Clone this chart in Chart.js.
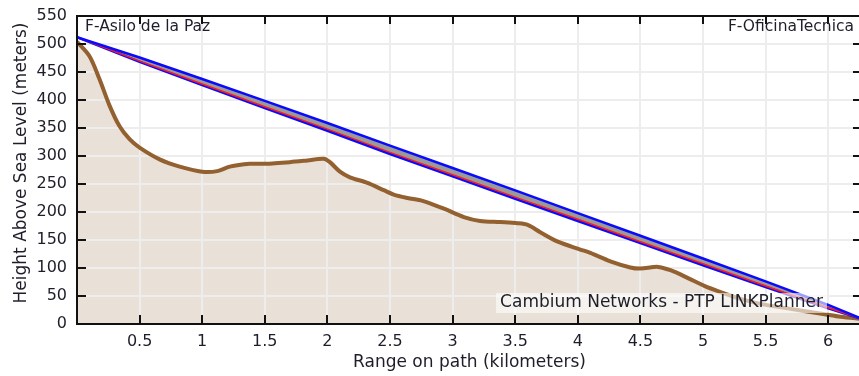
<!DOCTYPE html>
<html>
<head>
<meta charset="utf-8">
<title>Path profile</title>
<script src="https://cdn.jsdelivr.net/npm/chart.js@4.4.0/dist/chart.umd.min.js"></script>
<style>
  html, body { margin: 0; padding: 0; background: #fff; overflow: hidden; }
  canvas { display: block; }
</style>
</head>
<body>
<canvas id="profile" width="866" height="376"></canvas>
<script>
// ground profile along the path (km, metres above sea level)
const terrainKm = [0, 0.1, 0.18, 0.26, 0.34, 0.42, 0.5, 0.66, 0.82, 1.0, 1.12, 1.22, 1.38, 1.5, 1.7, 1.84, 1.97,
  2.02, 2.1, 2.18, 2.32, 2.45, 2.53, 2.64, 2.76, 2.93, 3.09, 3.22, 3.38, 3.52, 3.6, 3.7, 3.84, 4.02, 4.1,
  4.26, 4.42, 4.5, 4.64, 4.74, 4.88, 5.01, 5.14, 5.3, 5.46, 5.7, 5.96, 6.1, 6.27];
const terrainHeight = [504, 478, 437, 390, 353, 330, 315, 294, 281, 272, 273, 281, 286, 286, 289, 292, 295,
  289, 272, 262, 252, 239, 231, 225, 220, 206, 191, 184, 182, 180, 177, 164, 147, 133, 127,
  112, 101, 99, 102, 96, 82, 68, 57, 45, 36, 27, 18, 13, 9];

// line of sight and its clearance band
const bandKm = [0, 0.5, 1, 1.5, 2, 2.5, 3, 3.5, 4, 4.5, 5, 5.5, 6, 6.27];
const bandUpper = [512, 476, 437.5, 398.5, 359, 318.5, 278.5, 238.5, 198, 157.5, 117, 76, 34, 9];
const bandLower = [512, 468, 426.5, 385.5, 345, 303.5, 263.5, 223.5, 184, 144.5, 105, 66, 28, 9];
const losRed = [512, 469.5, 428.5, 388, 348, 306.5, 266.5, 226.5, 187, 147, 107.5, 68, 29, 9];

const xTickValues = [0.5, 1, 1.5, 2, 2.5, 3, 3.5, 4, 4.5, 5, 5.5, 6];
const yTickValues = [0, 50, 100, 150, 200, 250, 300, 350, 400, 450, 500, 550];

const siteLeft = 'F-Asilo de la Paz';
const siteRight = 'F-OficinaTecnica';
const credit = 'Cambium Networks - PTP LINKPlanner';
const yTitle = 'Height Above Sea Level (meters)';

const FONT = 'DejaVu Sans';
const TEXT = '#1e1e2a';

const pts = (xs, ys) => xs.map((x, i) => ({ x, y: ys[i] }));

// grid goes over the ground fill but under every line
const profileFrame = {
  id: 'profileFrame',
  afterDatasetDraw(chart, args) {
    if (args.index !== chart.data.datasets.length - 1) return;
    const { ctx, chartArea: a, scales: { x, y } } = chart;
    ctx.save();
    ctx.strokeStyle = '#ededed';
    ctx.lineWidth = 2;
    ctx.beginPath();
    x.ticks.forEach(t => {
      const px = Math.round(x.getPixelForValue(t.value));
      ctx.moveTo(px, a.top); ctx.lineTo(px, a.bottom);
    });
    y.ticks.forEach(t => {
      const py = Math.round(y.getPixelForValue(t.value));
      ctx.moveTo(a.left, py); ctx.lineTo(a.right, py);
    });
    ctx.stroke();
    ctx.restore();
  },
  afterDraw(chart) {
    const { ctx, chartArea: a, scales: { x, y } } = chart;
    ctx.save();
    ctx.strokeStyle = '#111';
    ctx.lineWidth = 2;
    ctx.beginPath();
    ctx.moveTo(a.right, a.top); ctx.lineTo(a.left, a.top);
    ctx.lineTo(a.left, a.bottom); ctx.lineTo(a.right, a.bottom);
    ctx.lineTo(a.right, a.top);
    // inward tick marks on all four sides
    x.ticks.forEach(t => {
      const px = Math.round(x.getPixelForValue(t.value));
      ctx.moveTo(px, a.bottom); ctx.lineTo(px, a.bottom - 9);
      ctx.moveTo(px, a.top); ctx.lineTo(px, a.top + 8);
    });
    y.ticks.forEach(t => {
      const py = Math.round(y.getPixelForValue(t.value));
      ctx.moveTo(a.left, py); ctx.lineTo(a.left + 9, py);
      ctx.moveTo(a.right, py); ctx.lineTo(a.right - 9, py);
    });
    ctx.stroke();

    ctx.font = `15.5px "${FONT}"`;
    ctx.fillStyle = TEXT;
    ctx.textBaseline = 'middle';
    ctx.textAlign = 'left';
    ctx.fillText(siteLeft, a.left + 8, a.top + 11);
    ctx.textAlign = 'right';
    ctx.fillText(siteRight, a.right - 8, a.top + 11);

    ctx.font = `17px "${FONT}"`;
    const w = ctx.measureText(credit).width;
    const bx = a.right - 39 - w;
    ctx.fillStyle = 'rgba(255,255,255,0.6)';
    ctx.fillRect(bx - 4, a.bottom - 31, w + 8, 20);
    ctx.fillStyle = TEXT;
    ctx.textAlign = 'left';
    ctx.fillText(credit, bx, a.bottom - 21);

    // vertical axis title, sits a little above the plot's centre
    ctx.translate(22, (a.top + a.bottom) / 2 - 7);
    ctx.rotate(-Math.PI / 2);
    ctx.textAlign = 'center';
    ctx.font = `17px "${FONT}"`;
    ctx.fillText(yTitle, 0, 0);
    ctx.restore();
  }
};

new Chart(document.getElementById('profile'), {
  type: 'line',
  data: {
    datasets: [
      {
        label: 'upper',
        data: pts(bandKm, bandUpper),
        borderColor: '#0a0aff',
        borderWidth: 2.5,
        pointRadius: 0,
        fill: false
      },
      {
        label: 'red',
        data: pts(bandKm, losRed),
        borderColor: '#ff1a1a',
        borderWidth: 1.5,
        pointRadius: 0,
        fill: false
      },
      {
        label: 'lower',
        data: pts(bandKm, bandLower),
        borderColor: '#0a0aff',
        borderWidth: 2.5,
        pointRadius: 0,
        fill: { target: 0 },
        backgroundColor: '#9a9a9a'
      },
      {
        label: 'terrain',
        data: pts(terrainKm, terrainHeight),
        borderColor: '#936030',
        borderWidth: 4,
        pointRadius: 0,
        tension: 0.3,
        fill: false
      },
      {
        label: 'ground',
        data: pts(terrainKm, terrainHeight),
        borderWidth: 0,
        borderColor: 'rgba(0,0,0,0)',
        pointRadius: 0,
        tension: 0.3,
        fill: 'origin',
        backgroundColor: '#e9e0d7'
      }
    ]
  },
  options: {
    responsive: false,
    animation: false,
    devicePixelRatio: 1,
    layout: { padding: { top: 16, right: 4, left: 0, bottom: 0 } },
    plugins: { legend: { display: false }, tooltip: { enabled: false } },
    scales: {
      x: {
        type: 'linear',
        min: 0,
        max: 6.27,
        afterBuildTicks: s => { s.ticks = xTickValues.map(value => ({ value })); },
        afterFit: s => { s.height = 52; },
        grid: { display: false },
        border: { display: false },
        ticks: {
          color: TEXT,
          font: { family: FONT, size: 16 },
          padding: 0,
          maxRotation: 0,
          callback: v => String(v)
        },
        title: {
          display: true,
          text: 'Range on path (kilometers)',
          color: TEXT,
          font: { family: FONT, size: 17 },
          padding: { top: 0, bottom: 3 }
        }
      },
      y: {
        min: 0,
        max: 550,
        afterBuildTicks: s => { s.ticks = yTickValues.map(value => ({ value })); },
        afterFit: s => { s.width = 77; },
        grid: { display: false },
        border: { display: false },
        ticks: { color: TEXT, font: { family: FONT, size: 16 }, padding: 2 }
      }
    }
  },
  plugins: [profileFrame]
});
</script>
</body>
</html>
